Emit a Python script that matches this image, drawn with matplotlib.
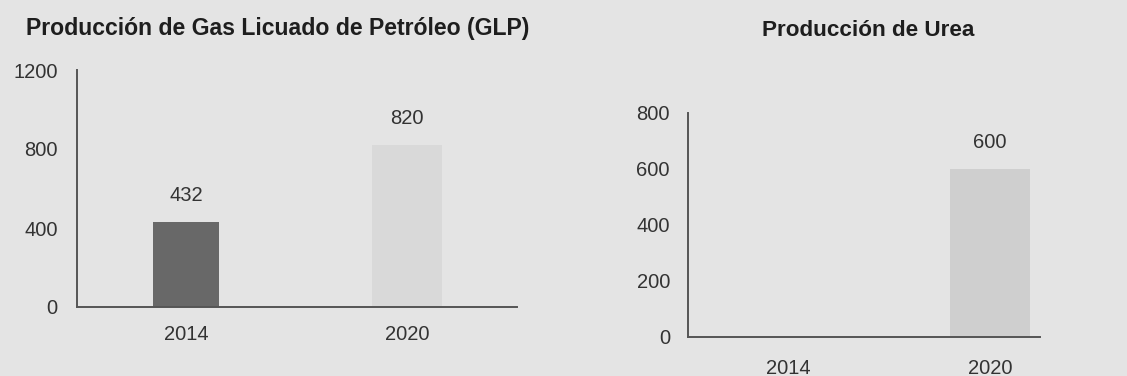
import matplotlib.pyplot as plt

years = ["2014", "2020"]
glp = [432, 820]
urea = [0, 600]
glp_ticks = [0, 400, 800, 1200]
urea_ticks = [0, 200, 400, 600, 800]

bg = "#e4e4e4"
plt.rcParams["font.family"] = ["Liberation Sans", "DejaVu Sans"]

fig = plt.figure(figsize=(11.27, 3.76), dpi=100, facecolor=bg)

def style(ax, ticks, ypad, xpad):
	ax.set_facecolor(bg)
	for s in ["top", "right"]:
		ax.spines[s].set_visible(False)
	for s in ["left", "bottom"]:
		ax.spines[s].set_color("#555555")
		ax.spines[s].set_linewidth(1.4)
	ax.set_yticks(ticks)
	ax.set_ylim(0, ticks[-1])
	ax.set_xticks(range(len(years)))
	ax.set_xticklabels(years)
	ax.tick_params(axis="y", length=0, pad=ypad, labelsize=14.5, labelcolor="#333333")
	ax.tick_params(axis="x", length=0, pad=xpad, labelsize=14.5, labelcolor="#333333")

def label(ax, x, v):
	ax.annotate(str(v), (x, v), xytext=(0, 12), textcoords="offset points",
		ha="center", va="bottom", fontsize=14.5, color="#333333")

# left panel: GLP
ax1 = fig.add_axes([77/1127, 69/376, 440/1127, 237/376])
style(ax1, glp_ticks, 14, 13)
ax1.set_xlim(-0.493, 1.498)
ax1.bar(0, glp[0], width=0.30, color="#686868")
ax1.bar(1, glp[1], width=0.32, color="#d9d9d9")
for i, v in enumerate(glp):
	label(ax1, i, v)

# right panel: urea
ax2 = fig.add_axes([688/1127, 39/376, 352/1127, 224/376])
style(ax2, urea_ticks, 13, 16)
ax2.set_xlim(-0.495, 1.248)
ax2.bar(1, urea[1], width=0.40, color="#cfcfcf")
label(ax2, 1, urea[1])

fig.text(278/1127, 1 - 28/376, "Producción de Gas Licuado de Petróleo (GLP)",
	ha="center", va="center", fontsize=16.6, fontweight="bold", color="#1e1e1e")
fig.text(868/1127, 1 - 30/376, "Producción de Urea",
	ha="center", va="center", fontsize=16.2, fontweight="bold", color="#1e1e1e")

fig.savefig("out.png", dpi=100, facecolor=bg)
